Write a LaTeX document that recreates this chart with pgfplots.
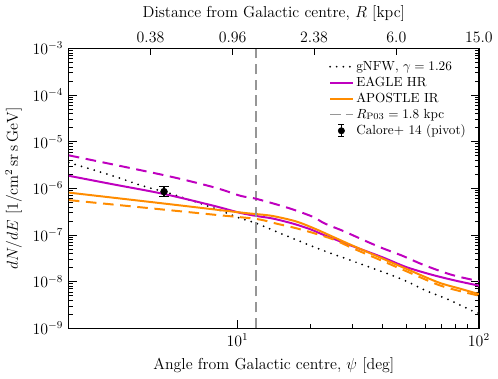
\documentclass[border=0pt,12pt]{standalone}
\usepackage{pgfplots}
\pgfplotsset{compat=1.18}
\definecolor{eaglecol}{RGB}{191,0,191}
\definecolor{apostlecol}{RGB}{255,140,0}
\definecolor{rcol}{RGB}{150,150,150}

\begin{document}
\begin{tikzpicture}
\begin{axis}[
    scale only axis,
    width=310pt, height=211.5pt,
    xmode=log, ymode=log,
    xmin=2, xmax=100, ymin=1e-9, ymax=1e-3,
    xtick pos=left,
    ytick pos=both,
    tick align=inside,
    major tick length=6pt, minor tick length=3pt,
    every tick/.style={black, line width=0.6pt},
    axis line style={line width=1pt},
    ytick={1e-9,1e-8,1e-7,1e-6,1e-5,1e-4,1e-3},
    xtick={10,100},
    xlabel={Angle from Galactic centre, $\psi$ [deg]},
    ylabel={$dN/dE$ [$1/\mathrm{cm^2\,sr\,s\,GeV}$]},
    legend style={draw=none, fill=none, at={(0.985,0.975)}, anchor=north east,
        cells={anchor=west}, font=\footnotesize, row sep=-0.8pt},
    legend cell align=left,
]
% gNFW, gamma = 1.26
\addplot[black, line width=1.5pt, line cap=round, dash pattern=on 0pt off 5pt, smooth] coordinates {
    (2,3.57e-6) (3,1.9e-6) (4,1.15e-6) (5,8.4e-7) (6,6.2e-7) (8,3.75e-7)
    (10.2,2.3e-7) (11.9,1.8e-7) (15.3,1.05e-7) (21.8,5.0e-8) (30,2.76e-8)
    (46.5,1.2e-8) (60,6.5e-9) (74.6,4.14e-9) (92.9,2.42e-9) (100,2.1e-9)
};
\addlegendentry{gNFW, $\gamma=1.26$}
% EAGLE HR
\addplot[eaglecol, line width=1.5pt, smooth] coordinates {
    (2,1.86e-6) (3,1.24e-6) (5,7.5e-7) (8,4.2e-7) (10.2,3.0e-7) (12,2.55e-7)
    (14,2.25e-7) (17,1.75e-7) (20,1.33e-7) (23,9.8e-8) (30,5.75e-8)
    (40,3.3e-8) (50,2.05e-8) (63.6,1.41e-8) (80,1.05e-8) (100,8.2e-9)
};
\addlegendentry{EAGLE HR}
% APOSTLE IR
\addplot[apostlecol, line width=1.5pt, smooth] coordinates {
    (2,8.1e-7) (5,4.7e-7) (10.2,3.05e-7) (12,2.8e-7) (14,2.55e-7)
    (17.5,1.95e-7) (21,1.35e-7) (25,9.0e-8) (30,5.9e-8) (40,3.1e-8)
    (51,1.8e-8) (68,9.6e-9) (84,7.0e-9) (100,5.4e-9)
};
\addlegendentry{APOSTLE IR}
% R_P03
\addplot[rcol, line width=1.2pt, dash pattern=on 8pt off 4pt] coordinates {
    (11.94,1e-9) (11.94,1e-3)
};
\addlegendentry{$R_{\rm P03}=1.8$ kpc}
% Calore+14 pivot
\addplot[black, only marks, mark=*, mark size=2.6pt,
    legend image code/.code={
        \draw[black, line width=1pt] (0.3cm,-0.16cm) -- (0.3cm,0.16cm);
        \draw[black, line width=1pt] (0.22cm,-0.16cm) -- (0.38cm,-0.16cm);
        \draw[black, line width=1pt] (0.22cm,0.16cm) -- (0.38cm,0.16cm);
        \fill[black] (0.3cm,0cm) circle (2.4pt);
    },
    error bars/.cd, y dir=both, y explicit,
    error bar style={line width=1pt},
    error mark options={rotate=90, mark size=3.5pt, line width=1pt}]
    coordinates {(4.96,8.5e-7) += (0,2.4e-7) -= (0,1.85e-7)};
\addlegendentry{Calore+ 14 (pivot)}
% dashed variants
\addplot[eaglecol, line width=1.5pt, dash pattern=on 8pt off 5pt, smooth, forget plot] coordinates {
    (2,5.1e-6) (5,1.9e-6) (8,1.05e-6) (10.3,6.9e-7) (11.9,6.0e-7)
    (16.1,3.85e-7) (20.4,2.48e-7) (23,1.76e-7) (27.6,1.2e-7) (33.4,7.7e-8)
    (39.6,5.28e-8) (47.9,3.63e-8) (58.4,2.33e-8) (72.4,1.55e-8)
    (82.2,1.28e-8) (100,1.02e-8)
};
\addplot[apostlecol, line width=1.5pt, dash pattern=on 8pt off 5pt, smooth, forget plot] coordinates {
    (2,5.6e-7) (5,3.48e-7) (8,2.72e-7) (12,2.2e-7) (14.5,1.75e-7)
    (17,1.45e-7) (20.4,1.12e-7) (25,8.0e-8) (30,5.2e-8) (40,2.75e-8)
    (51,1.6e-8) (68,8.5e-9) (84,6.2e-9) (100,5.0e-9)
};
\end{axis}
\begin{axis}[
    scale only axis,
    width=310pt, height=211.5pt,
    xmode=log, xmin=2, xmax=100, ymin=0, ymax=1,
    axis x line*=top,
    axis y line=none,
    axis line style={line width=1pt, -},
    tick align=inside,
    major tick length=5pt,
    every tick/.style={black, line width=0.6pt},
    xminorticks=false,
    xtick={4.36,9.55,20.75,45.5,100},
    xticklabels={0.38,0.96,2.38,6.0,15.0},
    xlabel={Distance from Galactic centre, $R$ [kpc]},
]
\end{axis}
\end{tikzpicture}
\end{document}
